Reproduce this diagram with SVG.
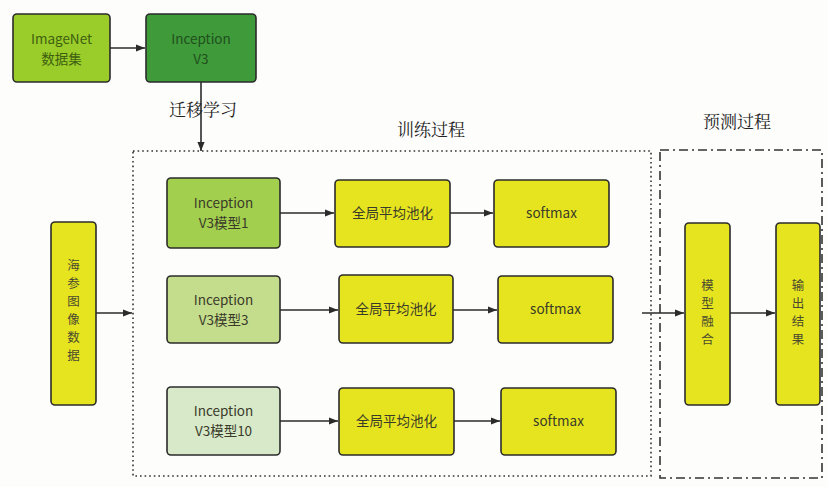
<svg xmlns="http://www.w3.org/2000/svg" width="828" height="487" viewBox="0 0 828 487">
  <style>
    .box { stroke: #2b2b2b; stroke-width: 1.6; }
    .yel { fill: #e6e41e; }
    .t { font-family: "Noto Sans CJK SC", "Noto Sans", sans-serif; font-size: 13.5px; fill: #3a3a2a; text-anchor: middle; }
    .tv { font-family: "Noto Sans CJK SC", sans-serif; font-size: 12.5px; fill: #4a4a30; text-anchor: middle; }
    .cap { font-family: "Noto Serif CJK SC", "Noto Sans CJK SC", serif; font-size: 17px; fill: #222; text-anchor: middle; }
    .line { stroke: #2b2b2b; stroke-width: 1.6; fill: none; }
  </style>
  <defs>
    <marker id="arr" viewBox="0 0 10 10" refX="10" refY="5" markerWidth="9" markerHeight="9" markerUnits="userSpaceOnUse" orient="auto">
      <path d="M0,1 L10,5 L0,9 Z" fill="#2b2b2b"/>
    </marker>
  </defs>
  <rect width="828" height="487" fill="#fdfdfc"/>

  <!-- stage frames -->
  <g id="frames">
    <rect x="133" y="151" width="518" height="325" fill="none" stroke="#333" stroke-width="1.6" stroke-dasharray="1.6 3"/>
    <rect x="660" y="150" width="162" height="328" fill="none" stroke="#333" stroke-width="1.6" stroke-dasharray="9 4 2 4"/>
  </g>

  <!-- captions -->
  <g id="captions">
    <text class="cap" x="203" y="116">迁移学习</text>
    <text class="cap" x="431" y="136">训练过程</text>
    <text class="cap" x="737" y="128">预测过程</text>
  </g>

  <!-- connectors -->
  <g id="connectors">
    <line class="line" x1="110" y1="48" x2="145" y2="48" marker-end="url(#arr)"/>
    <line class="line" x1="201" y1="82" x2="201" y2="151" marker-end="url(#arr)"/>
    <line class="line" x1="96" y1="313" x2="132" y2="313" marker-end="url(#arr)"/>
    <line class="line" x1="280" y1="213" x2="334" y2="213" marker-end="url(#arr)"/>
    <line class="line" x1="450" y1="213" x2="493" y2="213" marker-end="url(#arr)"/>
    <line class="line" x1="280" y1="310" x2="338" y2="310" marker-end="url(#arr)"/>
    <line class="line" x1="453" y1="310" x2="497" y2="310" marker-end="url(#arr)"/>
    <line class="line" x1="280" y1="421" x2="338" y2="421" marker-end="url(#arr)"/>
    <line class="line" x1="454" y1="421" x2="500" y2="421" marker-end="url(#arr)"/>
    <line class="line" x1="642" y1="313" x2="684" y2="313" marker-end="url(#arr)"/>
    <line class="line" x1="730" y1="313" x2="775" y2="313" marker-end="url(#arr)"/>
  </g>

  <g id="imagenet">
    <rect class="box" x="13" y="14" width="97" height="68" rx="4" fill="#9acd2a"/>
    <text class="t" x="61.5" y="44" style="fill:#3f5f10">ImageNet</text>
    <text class="t" x="61.5" y="64" style="fill:#3f5f10">数据集</text>
  </g>
  <g id="inception">
    <rect class="box" x="146" y="14" width="110" height="68" rx="4" fill="#3f9a3a"/>
    <text class="t" x="201" y="44" style="fill:#1f4f1c">Inception</text>
    <text class="t" x="201" y="64" style="fill:#1f4f1c">V3</text>
  </g>

  <g id="data">
    <rect class="box yel" x="51" y="222" width="45" height="183" rx="4"/>
    <text class="tv" x="73.5" y="270">海</text>
    <text class="tv" x="73.5" y="288">参</text>
    <text class="tv" x="73.5" y="306">图</text>
    <text class="tv" x="73.5" y="324">像</text>
    <text class="tv" x="73.5" y="342">数</text>
    <text class="tv" x="73.5" y="360">据</text>
  </g>

  <g id="model1">
    <rect class="box" x="167" y="178" width="113" height="70" rx="4" fill="#a3cf4e"/>
    <text class="t" x="223.5" y="208">Inception</text>
    <text class="t" x="223.5" y="228">V3模型1</text>
  </g>
  <g id="model3">
    <rect class="box" x="167" y="276" width="113" height="67" rx="4" fill="#c4dd8c"/>
    <text class="t" x="223.5" y="305">Inception</text>
    <text class="t" x="223.5" y="325">V3模型3</text>
  </g>
  <g id="model10">
    <rect class="box" x="167" y="387" width="113" height="68" rx="4" fill="#d7e9c9"/>
    <text class="t" x="223.5" y="416">Inception</text>
    <text class="t" x="223.5" y="436">V3模型10</text>
  </g>

  <g id="pool1">
    <rect class="box yel" x="335" y="180" width="115" height="67" rx="4"/>
    <text class="t" x="392.5" y="218">全局平均池化</text>
  </g>
  <g id="pool3">
    <rect class="box yel" x="339" y="275" width="114" height="68" rx="4"/>
    <text class="t" x="396" y="314">全局平均池化</text>
  </g>
  <g id="pool10">
    <rect class="box yel" x="339" y="388" width="115" height="67" rx="4"/>
    <text class="t" x="396.5" y="426">全局平均池化</text>
  </g>

  <g id="softmax1">
    <rect class="box yel" x="494" y="180" width="115" height="67" rx="4"/>
    <text class="t" x="551.5" y="218">softmax</text>
  </g>
  <g id="softmax3">
    <rect class="box yel" x="498" y="276" width="115" height="67" rx="4"/>
    <text class="t" x="555.5" y="314">softmax</text>
  </g>
  <g id="softmax10">
    <rect class="box yel" x="501" y="388" width="115" height="67" rx="4"/>
    <text class="t" x="558.5" y="426">softmax</text>
  </g>

  <g id="fusion">
    <rect class="box yel" x="685" y="223" width="45" height="182" rx="4"/>
    <text class="tv" x="707.5" y="290">模</text>
    <text class="tv" x="707.5" y="308">型</text>
    <text class="tv" x="707.5" y="326">融</text>
    <text class="tv" x="707.5" y="344">合</text>
  </g>
  <g id="output">
    <rect class="box yel" x="776" y="223" width="44" height="182" rx="4"/>
    <text class="tv" x="798" y="290">输</text>
    <text class="tv" x="798" y="308">出</text>
    <text class="tv" x="798" y="326">结</text>
    <text class="tv" x="798" y="344">果</text>
  </g>
</svg>
